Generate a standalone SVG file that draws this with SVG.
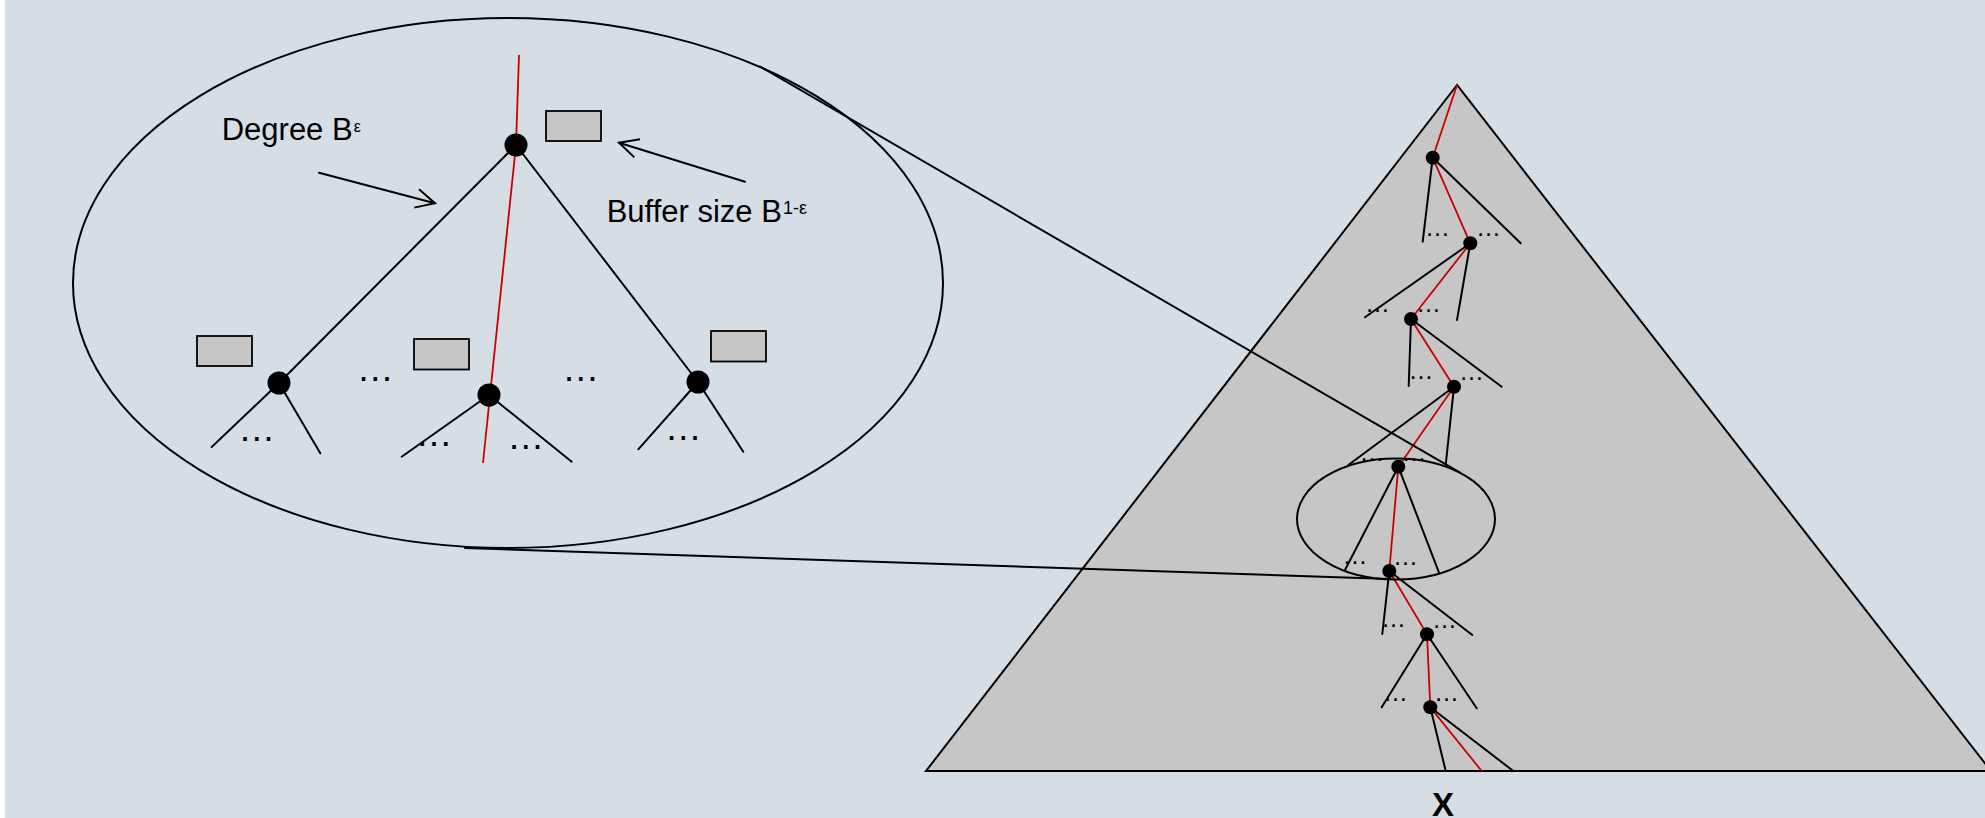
<svg xmlns="http://www.w3.org/2000/svg" width="1985" height="818" viewBox="0 0 1985 818">
<defs>
<style>
.ln{stroke:#000;stroke-width:2;fill:none;stroke-linecap:round}
.red{stroke:#CC0000;stroke-width:1.8;fill:none}
.nd{fill:#000}
.buf{fill:#C6C6C6;stroke:#000;stroke-width:1.8}
.lbl{font-family:"Liberation Sans",Arial,sans-serif;fill:#000}
.dots{font-family:"Liberation Sans",Arial,sans-serif;font-size:37px;text-anchor:middle;fill:#000}
.sdots{font-family:"Liberation Sans",Arial,sans-serif;font-size:25px;text-anchor:middle;fill:#000}
</style>
<marker id="open" markerUnits="userSpaceOnUse" viewBox="-24 -13 26 26" refX="0" refY="0" markerWidth="26" markerHeight="26" orient="auto">
<path d="M-19,-9.5 L0,0 L-19,9.5" fill="none" stroke="#000" stroke-width="2"/>
</marker>
</defs>
<rect x="0" y="0" width="1985" height="818" fill="#D6DEE5"/>
<rect x="0" y="0" width="5" height="818" fill="#FFFFFF"/>

<g id="zoom-ellipse">
<ellipse cx="508" cy="283" rx="435" ry="265" class="ln"/>
</g>

<g id="big-tree">
<g id="big-edges">
<line class="ln" x1="516" y1="145" x2="279" y2="383"/>
<line class="ln" x1="516" y1="145" x2="698" y2="382"/>
<line class="ln" x1="279" y1="383" x2="211.7" y2="447"/>
<line class="ln" x1="279" y1="383" x2="320.3" y2="453.3"/>
<line class="ln" x1="489" y1="395" x2="401.7" y2="456.7"/>
<line class="ln" x1="489" y1="395" x2="571.7" y2="461.7"/>
<line class="ln" x1="698" y1="382" x2="638.3" y2="449.3"/>
<line class="ln" x1="698" y1="382" x2="743.3" y2="451.7"/>
<polyline class="red" points="519,55 516,145 483,463"/>
</g>
<g id="big-dots">
<text class="dots" x="256.7" y="440.9">…</text>
<text class="dots" x="375.3" y="381.2">…</text>
<text class="dots" x="434" y="446.2">…</text>
<text class="dots" x="525.7" y="448.9">…</text>
<text class="dots" x="580.7" y="381.2">…</text>
<text class="dots" x="683.3" y="439.9">…</text>
</g>
<g id="node-root"><circle class="nd" cx="516" cy="145" r="11.5"/><rect class="buf" x="546" y="111" width="55" height="30"/></g>
<g id="node-left"><circle class="nd" cx="279" cy="383" r="11.5"/><rect class="buf" x="197" y="336" width="55" height="30"/></g>
<g id="node-mid"><circle class="nd" cx="489" cy="395" r="11.5"/><rect class="buf" x="414" y="339" width="55" height="30.5"/></g>
<g id="node-right"><circle class="nd" cx="698" cy="382" r="11.5"/><rect class="buf" x="711" y="331" width="55" height="30.5"/></g>
</g>

<g id="label-degree">
<line class="ln" x1="319" y1="172.7" x2="435" y2="203.3" marker-end="url(#open)"/>
<text class="lbl" x="221.7" y="140" font-size="31">Degree B<tspan font-size="16" dx="1" dy="-8.3">ε</tspan></text>
</g>
<g id="label-buffer">
<line class="ln" x1="745" y1="181.7" x2="619" y2="142.7" marker-end="url(#open)"/>
<text class="lbl" x="606.7" y="222.3" font-size="31">Buffer size B<tspan font-size="18" dx="1" dy="-8.3">1-ε</tspan></text>
</g>

<g id="triangle">
<polygon points="1457,85 926,771 1991,771" fill="#C6C6C6" stroke="#000" stroke-width="2" stroke-linejoin="miter"/>
</g>

<g id="path-tree">
<g id="path-edges">
<line class="ln" x1="1432.7" y1="157.7" x2="1422.7" y2="241.7"/>
<line class="ln" x1="1432.7" y1="157.7" x2="1520.7" y2="243.3"/>
<line class="ln" x1="1470.3" y1="243.3" x2="1365" y2="317.3"/>
<line class="ln" x1="1470.3" y1="243.3" x2="1457" y2="320"/>
<line class="ln" x1="1411" y1="319" x2="1408.7" y2="386"/>
<line class="ln" x1="1411" y1="319" x2="1501.7" y2="386.7"/>
<line class="ln" x1="1454" y1="386.7" x2="1348.3" y2="465"/>
<line class="ln" x1="1454" y1="386.7" x2="1445.7" y2="465"/>
<line class="ln" x1="1398.3" y1="466.7" x2="1345" y2="570"/>
<line class="ln" x1="1398.3" y1="466.7" x2="1439" y2="572.7"/>
<line class="ln" x1="1389.3" y1="571" x2="1382.3" y2="634"/>
<line class="ln" x1="1389.3" y1="571" x2="1472.3" y2="635"/>
<line class="ln" x1="1427" y1="634.3" x2="1381.7" y2="707.3"/>
<line class="ln" x1="1427" y1="634.3" x2="1476.7" y2="708.3"/>
<line class="ln" x1="1430.3" y1="707.3" x2="1445.7" y2="771"/>
<line class="ln" x1="1430.3" y1="707.3" x2="1513.3" y2="771"/>
<polyline class="red" points="1457,85 1432.7,157.7 1470.3,243.3 1411,319 1454,386.7 1398.3,466.7 1389.3,571 1427,634.3 1430.3,707.3 1481.7,771"/>
</g>
<g id="path-dots">
<text class="sdots" x="1437.5" y="236.3">…</text>
<text class="sdots" x="1488.5" y="236.3">…</text>
<text class="sdots" x="1377.5" y="312.3">…</text>
<text class="sdots" x="1428.5" y="312.3">…</text>
<text class="sdots" x="1421" y="379.3">…</text>
<text class="sdots" x="1471.5" y="380.3">…</text>
<text class="sdots" x="1372" y="460.8">…</text>
<text class="sdots" x="1414" y="461.3">…</text>
<text class="sdots" x="1355" y="564.3">…</text>
<text class="sdots" x="1405.5" y="565.3">…</text>
<text class="sdots" x="1393.5" y="627.3">…</text>
<text class="sdots" x="1444.5" y="628.3">…</text>
<text class="sdots" x="1395.5" y="701.3">…</text>
<text class="sdots" x="1446.5" y="701.3">…</text>
</g>
<g id="p1"><circle class="nd" cx="1432.7" cy="157.7" r="7"/></g>
<g id="p2"><circle class="nd" cx="1470.3" cy="243.3" r="7"/></g>
<g id="p3"><circle class="nd" cx="1411" cy="319" r="7"/></g>
<g id="p4"><circle class="nd" cx="1454" cy="386.7" r="7"/></g>
<g id="p5"><circle class="nd" cx="1398.3" cy="466.7" r="7"/></g>
<g id="p6"><circle class="nd" cx="1389.3" cy="571" r="7"/></g>
<g id="p7"><circle class="nd" cx="1427" cy="634.3" r="7"/></g>
<g id="p8"><circle class="nd" cx="1430.3" cy="707.3" r="7"/></g>
</g>

<g id="small-ellipse">
<ellipse cx="1396" cy="519" rx="99" ry="60.5" class="ln"/>
</g>

<g id="connectors">
<line class="ln" x1="760" y1="66.5" x2="1460" y2="472.7"/>
<line class="ln" x1="465" y1="548" x2="1390" y2="579"/>
</g>

<g id="label-x">
<text class="lbl" x="1443" y="816" font-size="33" font-weight="bold" text-anchor="middle">X</text>
</g>
</svg>
